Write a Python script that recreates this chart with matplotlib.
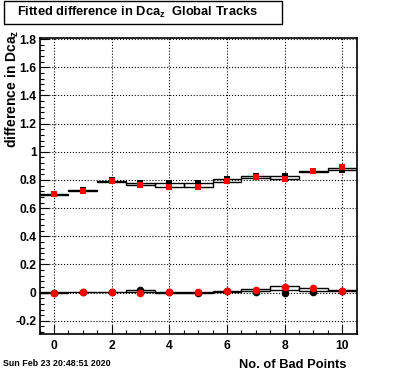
import numpy as np
import matplotlib
matplotlib.use("Agg")
from matplotlib import pyplot as plt
from matplotlib.patches import Rectangle
from matplotlib.ticker import MultipleLocator, FixedLocator

plt.rcParams['font.family'] = ['Liberation Sans', 'DejaVu Sans']
plt.rcParams['font.weight'] = 'bold'
plt.rcParams['mathtext.fontset'] = 'custom'
plt.rcParams['mathtext.rm'] = 'Liberation Sans:bold'

bad_points = np.arange(11)

# upper group (squares)
up_lo = [0.69, 0.72, 0.785, 0.762, 0.751, 0.751, 0.788, 0.815, 0.805, 0.860, 0.872]
up_hi = [0.70, 0.73, 0.795, 0.776, 0.777, 0.777, 0.807, 0.825, 0.830, 0.866, 0.888]
up_black = [0.70, 0.73, 0.800, 0.775, 0.780, 0.780, 0.810, 0.825, 0.830, 0.865, 0.872]
up_red = [0.70, 0.724, 0.790, 0.762, 0.752, 0.752, 0.790, 0.820, 0.810, 0.865, 0.890]

# lower group (circles)
lo_lo = [-0.003, 0.002, 0.002, 0.005, 0.000, -0.002, 0.006, 0.010, 0.018, 0.015, 0.012]
lo_hi = [0.003, 0.007, 0.007, 0.016, 0.004, 0.006, 0.012, 0.025, 0.047, 0.032, 0.016]
lo_black = [0.0, 0.006, 0.006, 0.016, 0.004, -0.003, 0.010, 0.005, 0.0, 0.004, 0.012]
lo_red = [0.0, 0.003, 0.003, 0.0, 0.008, 0.005, 0.012, 0.022, 0.037, 0.030, 0.014]

xticks = [0, 2, 4, 6, 8, 10]
yticks = [-0.2, 0, 0.2, 0.4, 0.6, 0.8, 1.0, 1.2, 1.4, 1.6, 1.8]

W, H = 396, 372
fig = plt.figure(figsize=(W / 100, H / 100), dpi=100)
ax = fig.add_axes([39.5 / W, 1 - 333.5 / H, (356.7 - 39.5) / W, (333.5 - 37.7) / H])

for lo, hi in [(up_lo, up_hi), (lo_lo, lo_hi)]:
    ax.bar(bad_points, np.array(hi) - np.array(lo), bottom=lo, width=1.0,
           fill=False, edgecolor='black', linewidth=1.0, zorder=3)

ax.plot(bad_points, up_black, 's', color='black', ms=5, mew=0, zorder=4)
ax.plot(bad_points, up_red, 's', color='red', ms=5, mew=0, zorder=5)
ax.plot(bad_points, lo_black, 'o', color='black', ms=5.5, mew=0, zorder=4)
ax.plot(bad_points, lo_red, 'o', color='red', ms=5.5, mew=0, zorder=5)

ax.set_xlim(-0.5, 10.5)
ax.set_ylim(-0.29, 1.81)
ax.xaxis.set_major_locator(FixedLocator(xticks))
ax.xaxis.set_minor_locator(MultipleLocator(0.5))
ax.yaxis.set_major_locator(FixedLocator(yticks))
ax.yaxis.set_minor_locator(MultipleLocator(0.04))
ax.set_xticklabels(['%g' % t for t in xticks])
ax.set_yticklabels(['%g' % t for t in yticks])
ax.tick_params(which='both', direction='in', top=False, right=False, labelsize=8.7, width=0.8)
ax.tick_params(which='major', length=6.5)
ax.tick_params(which='minor', length=3.2)
ax.tick_params(axis='x', pad=5)
ax.tick_params(axis='y', pad=2)
ax.grid(True, which='major', linestyle=':', color='black', linewidth=0.8)
ax.set_axisbelow(True)
for s in ax.spines.values():
    s.set_linewidth(1.2)

fig.text(12 / W, 1 - 30 / H, r'difference in Dca$_\mathrm{z}$', rotation=90,
         ha='center', va='top', fontsize=10, fontweight='bold')
fig.text(346 / W, 1 - 368.5 / H, 'No. of Bad Points', ha='right', va='baseline',
         fontsize=9.3, fontweight='bold')
fig.text(3 / W, 1 - 364 / H, 'Sun Feb 23 20:48:51 2020', ha='left', va='center',
         fontsize=6.4, fontweight='bold')

fig.patches.append(Rectangle((3.5 / W, 1 - 24 / H), (281.5 - 3.5) / W, 23 / H,
                             transform=fig.transFigure, fill=False,
                             edgecolor='black', linewidth=1.0))
fig.text(138 / W, 1 - 12.5 / H, r'Fitted difference in Dca$_\mathrm{z}$  Global Tracks',
         ha='center', va='center', fontsize=9.3, fontweight='bold')

fig.savefig('out.png', dpi=100)
